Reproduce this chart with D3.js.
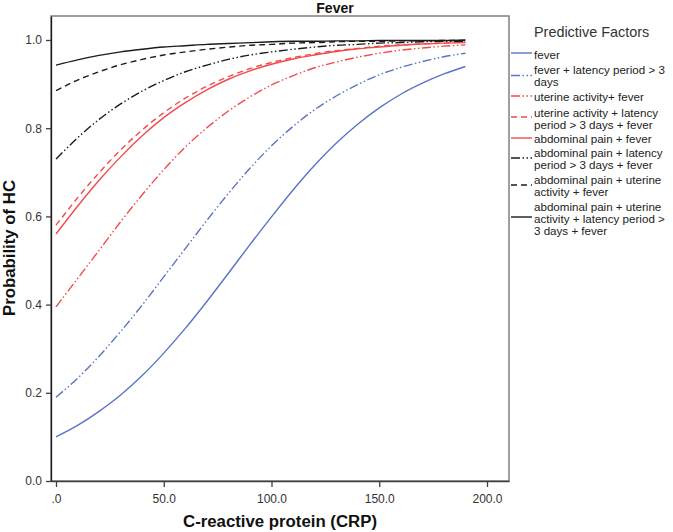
<!DOCTYPE html>
<html>
<head>
<meta charset="utf-8">
<script src="https://cdn.jsdelivr.net/npm/d3@7"></script>
<style>
  html, body { margin: 0; padding: 0; background: #fff; }
  svg { display: block; font-family: "Liberation Sans", Arial, sans-serif; }
</style>
</head>
<body>
<svg id="chart" width="673" height="532"></svg>
<script>
// ---- data ----
const crp = [0, 10, 20, 30, 40, 50, 60, 70, 80, 90, 100, 110, 120, 130, 140, 150, 160, 170, 180, 190];

const fever = [0.100, 0.126, 0.158, 0.195, 0.239, 0.290, 0.346, 0.407, 0.471, 0.536, 0.599, 0.660, 0.716, 0.766, 0.809, 0.846, 0.877, 0.902, 0.923, 0.940];
const feverLatency = [0.190, 0.233, 0.283, 0.339, 0.399, 0.463, 0.527, 0.591, 0.652, 0.709, 0.760, 0.804, 0.842, 0.873, 0.899, 0.921, 0.938, 0.951, 0.962, 0.970];
const uterineFever = [0.395, 0.459, 0.523, 0.588, 0.649, 0.706, 0.757, 0.801, 0.839, 0.871, 0.898, 0.919, 0.937, 0.950, 0.961, 0.970, 0.977, 0.982, 0.986, 0.989];
const uterineLatencyFever = [0.580, 0.642, 0.699, 0.751, 0.796, 0.835, 0.868, 0.895, 0.917, 0.935, 0.949, 0.960, 0.969, 0.976, 0.981, 0.986, 0.989, 0.991, 0.993, 0.995];
const abdominalFever = [0.560, 0.623, 0.682, 0.735, 0.783, 0.824, 0.858, 0.887, 0.911, 0.930, 0.945, 0.957, 0.966, 0.974, 0.980, 0.984, 0.988, 0.991, 0.993, 0.994];
const abdominalLatencyFever = [0.730, 0.778, 0.820, 0.855, 0.884, 0.908, 0.928, 0.943, 0.956, 0.966, 0.973, 0.979, 0.984, 0.988, 0.990, 0.993, 0.994, 0.996, 0.997, 0.997];
const abdominalUterineFever = [0.885, 0.909, 0.928, 0.944, 0.956, 0.966, 0.973, 0.979, 0.984, 0.988, 0.990, 0.993, 0.994, 0.996, 0.997, 0.997, 0.998, 0.998, 0.999, 0.999];
const allFactors = [0.943, 0.955, 0.965, 0.973, 0.979, 0.984, 0.987, 0.990, 0.992, 0.994, 0.996, 0.997, 0.997, 0.998, 0.998, 0.999, 0.999, 0.999, 0.999, 1.000];

const seriesLabels = [
  ["fever"],
  ["fever + latency period > 3", "days"],
  ["uterine activity+ fever"],
  ["uterine activity + latency", "period > 3 days + fever"],
  ["abdominal pain + fever"],
  ["abdominal pain + latency", "period > 3 days + fever"],
  ["abdominal pain + uterine", "activity + fever"],
  ["abdominal pain + uterine", "activity + latency period >", "3 days + fever"]
];
const seriesValues = [fever, feverLatency, uterineFever, uterineLatencyFever, abdominalFever, abdominalLatencyFever, abdominalUterineFever, allFactors];

const xTickValues = [0, 50, 100, 150, 200];
const xTickLabels = [".0", "50.0", "100.0", "150.0", "200.0"];
const yTickValues = [0, 0.2, 0.4, 0.6, 0.8, 1.0];
const yTickLabels = ["0.0", "0.2", "0.4", "0.6", "0.8", "1.0"];

// ---- styles ----
const BLUE = "#5b73c7", RED = "#f24a4c", BLACK = "#1c1c1c";
const DDOT = "9,2.5,1.5,2.5,1.5,2.5";
const styles = [
  {color: BLUE, dash: null},
  {color: BLUE, dash: DDOT},
  {color: RED, dash: DDOT},
  {color: RED, dash: "6,4"},
  {color: RED, dash: null},
  {color: BLACK, dash: DDOT},
  {color: BLACK, dash: "6,4"},
  {color: BLACK, dash: null}
];

// ---- layout ----
const svg = d3.select("#chart");
const L = 51, R = 509, T = 16, B = 481;
const x = d3.scaleLinear().domain([-5 / 2.155, (R - 56) / 2.155]).range([L, R]);
const y = d3.scaleLinear().domain([0, (B - T) / 441]).range([B, T]);

// frame
svg.append("rect").attr("x", L).attr("y", T).attr("width", R - L).attr("height", B - T)
  .attr("fill", "none").attr("stroke", "#808080").attr("stroke-width", 1.5);

// axes
const xAxis = d3.axisBottom(x).tickValues(xTickValues)
  .tickFormat((d, i) => xTickLabels[i]).tickSize(6).tickSizeOuter(0);
const gx = svg.append("g").attr("transform", `translate(0,${B})`).call(xAxis);
gx.select(".domain").attr("stroke", "#404040").attr("stroke-width", 1.3);
gx.selectAll(".tick line").attr("stroke", "#404040").attr("stroke-width", 1.3);
gx.selectAll(".tick text").attr("fill", "#333").attr("font-size", 12).attr("dy", "1.05em")
  .attr("font-family", "Liberation Sans, Arial, sans-serif");

const yAxis = d3.axisLeft(y).tickValues(yTickValues)
  .tickFormat((d, i) => yTickLabels[i]).tickSize(5).tickSizeOuter(0);
const gy = svg.append("g").attr("transform", `translate(${L},0)`).call(yAxis);
gy.select(".domain").attr("stroke", "#1a1a1a").attr("stroke-width", 1.3);
gy.selectAll(".tick line").attr("stroke", "#404040").attr("stroke-width", 1.3);
gy.selectAll(".tick text").attr("fill", "#333").attr("font-size", 12).attr("x", -9)
  .attr("font-family", "Liberation Sans, Arial, sans-serif");

// lines
const line = d3.line().x((d, i) => x(crp[i])).y(d => y(d)).curve(d3.curveMonotoneX);
const plot = svg.append("g");
seriesValues.forEach((vals, k) => {
  plot.append("path").datum(vals).attr("d", line)
    .attr("fill", "none").attr("stroke", styles[k].color).attr("stroke-width", 1.4)
    .attr("stroke-dasharray", styles[k].dash);
});

// title
svg.append("text").attr("x", 335).attr("y", 13).attr("text-anchor", "middle")
  .attr("font-weight", "bold").attr("font-size", 14).attr("fill", "#111").text("Fever");

// axis titles
svg.append("text").attr("x", 280).attr("y", 527).attr("text-anchor", "middle")
  .attr("font-weight", "bold").attr("font-size", 16.8).attr("fill", "#111").text("C-reactive protein (CRP)");
svg.append("text").attr("transform", "translate(15,248) rotate(-90)").attr("text-anchor", "middle")
  .attr("font-weight", "bold").attr("font-size", 16.8).attr("fill", "#111").text("Probability of HC");

// legend
const lg = svg.append("g");
lg.append("text").attr("x", 534).attr("y", 37).attr("font-size", 14.4).attr("fill", "#333").text("Predictive Factors");
const lineYs = [53, 75.5, 96, 117, 138, 158, 185, 217];
const textTops = [55, 70, 97, 113, 139, 153, 180, 207];
seriesLabels.forEach((lines, k) => {
  lg.append("line").attr("x1", 511).attr("x2", 532).attr("y1", lineYs[k]).attr("y2", lineYs[k])
    .attr("stroke", styles[k].color).attr("stroke-width", 1.4).attr("stroke-dasharray", styles[k].dash);
  lines.forEach((t, j) => {
    lg.append("text").attr("x", 534).attr("y", textTops[k] + j * 12).attr("dy", "0.35em")
      .attr("font-size", 11.6).attr("fill", "#222").text(t);
  });
});
</script>
</body>
</html>
